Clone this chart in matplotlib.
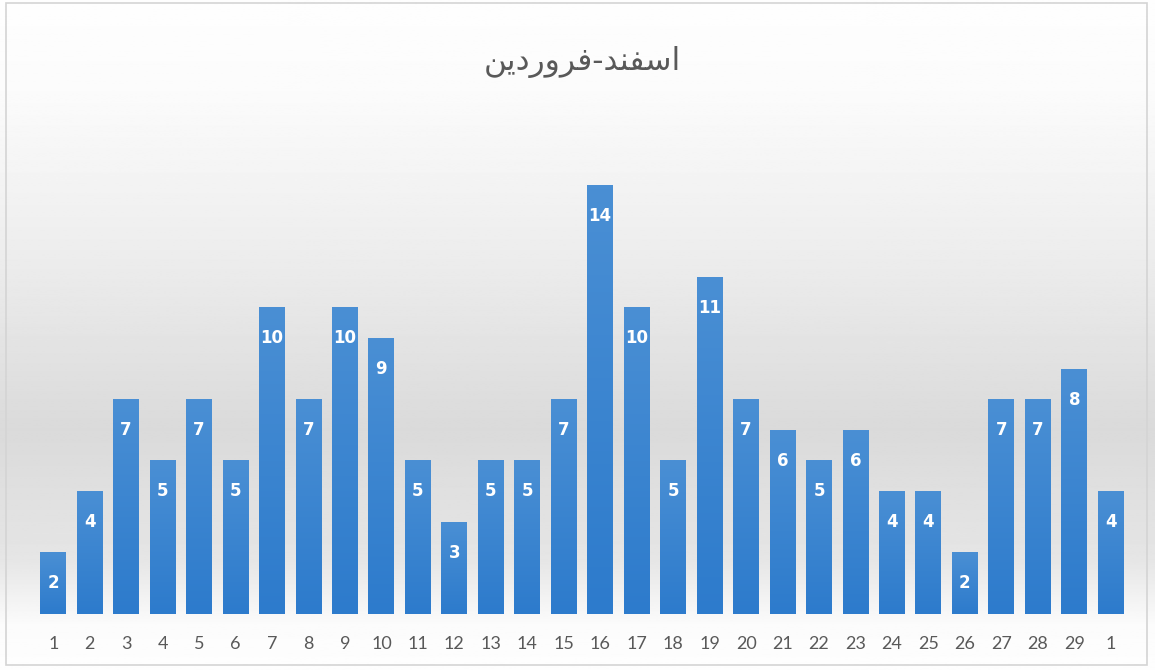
import matplotlib
matplotlib.use("Agg")
import matplotlib.pyplot as plt
import numpy as np
from matplotlib.colors import LinearSegmentedColormap
from matplotlib.patches import Rectangle

# Data
categories = ["1", "2", "3", "4", "5", "6", "7", "8", "9", "10", "11", "12", "13", "14", "15",
              "16", "17", "18", "19", "20", "21", "22", "23", "24", "25", "26", "27", "28", "29", "1"]
values = [2, 4, 7, 5, 7, 5, 10, 7, 10, 9, 5, 3, 5, 5, 7, 14, 10, 5, 11, 7, 6, 5, 6, 4, 4, 2, 7, 7, 8, 4]
# "اسفند-فروردین" written with Arabic presentation forms in visual order
title = "\uFEE6\uFBFE\uFEA9\uFEAD\uFEED\uFEAE\uFED3-\uFEAA\uFEE8\uFED4\uFEB3\uFE8D"

W, H = 1155, 670
fig = plt.figure(figsize=(W / 100, H / 100), dpi=100)

# background gradient
bg = fig.add_axes([0, 0, 1, 1])
bg.set_axis_off()
ys = np.linspace(0, H, 400)
stops_y = [0, 90, 250, 430, 560, 625, 670]
stops_v = [0.995, 0.985, 0.93, 0.855, 0.90, 0.985, 0.995]
col = np.interp(ys, stops_y, stops_v)
img = np.repeat(col[:, None], 2, axis=1)
bg.imshow(img, cmap="gray", vmin=0, vmax=1, extent=[0, W, H, 0], aspect="auto")
bg.set_xlim(0, W)
bg.set_ylim(H, 0)
bg.add_patch(Rectangle((6, 3), 1141, 662, fill=False, edgecolor="#d4d4d4", linewidth=1.2))

# main axes
ax = fig.add_axes([35 / W, (H - 614) / H, (1129 - 35) / W, (614 - 124) / H])
ax.patch.set_alpha(0)
x = np.arange(len(values))
bars = ax.bar(x, values, width=0.71, color="none", edgecolor="none")
cmap = LinearSegmentedColormap.from_list("b", ["#2d7bcc", "#4a8fd4"])
grad = np.linspace(0, 1, 100)[:, None]
for b in bars:
    ax.imshow(grad, cmap=cmap, origin="lower", aspect="auto",
              extent=[b.get_x(), b.get_x() + b.get_width(), 0, b.get_height()], zorder=2)
for xi, v in zip(x, values):
    ax.text(xi, v - 1.0, str(v), ha="center", va="center", color="white",
            fontsize=12, fontweight="bold", family="DejaVu Sans", zorder=3)
ax.set_xlim(-0.5, len(values) - 0.5)
ax.set_ylim(0, 16)
ax.set_xticks(x)
ax.set_xticklabels(categories, fontsize=13, color="#595959", family="Lato")
ax.tick_params(axis="x", length=0, pad=16)
ax.set_yticks([])
for s in ax.spines.values():
    s.set_visible(False)

fig.text(582 / W, 1 - 62 / H, title, ha="center", va="center", fontsize=22.5,
         color="#595959", family=["DejaVu Sans"])

fig.savefig("out.png", dpi=100)
